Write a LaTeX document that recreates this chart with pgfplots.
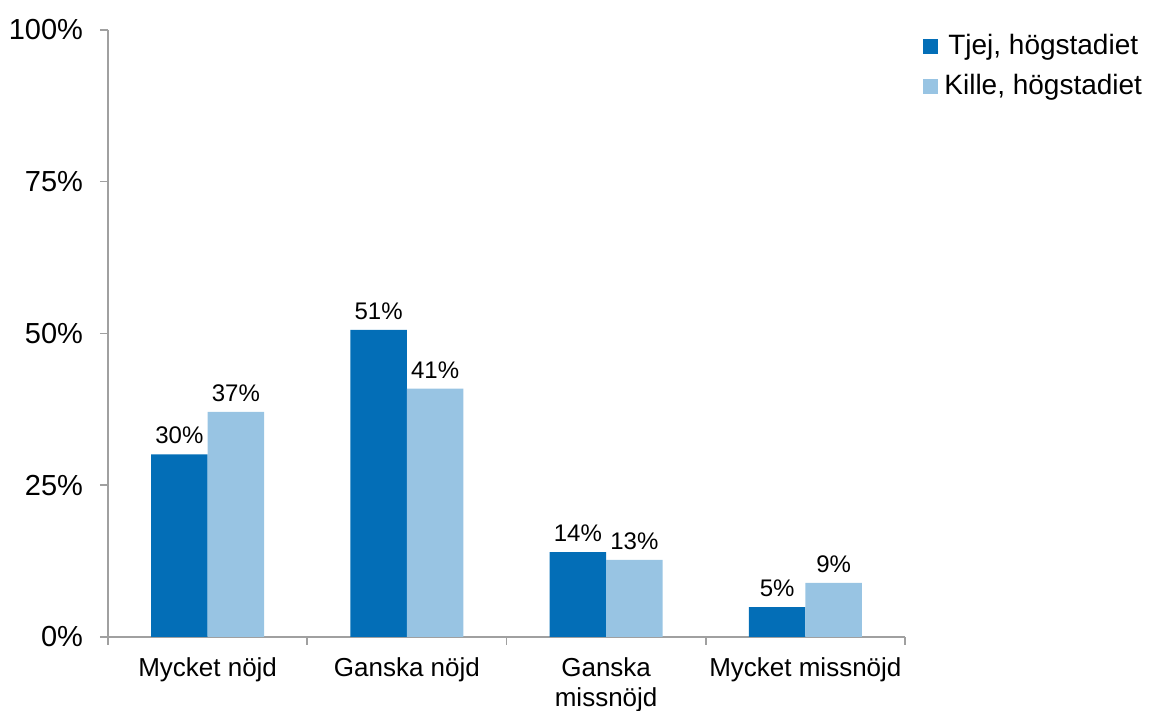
\documentclass[border=0pt]{standalone}
\usepackage{pgfplots}
\pgfplotsset{compat=1.18}
\usepackage{fontspec}
\setmainfont{Liberation Sans}
\definecolor{dark}{RGB}{3,110,183}
\definecolor{light}{RGB}{152,196,227}
\definecolor{axgray}{RGB}{160,160,160}
\begin{document}
\begin{tikzpicture}
\useasboundingbox (-54pt,-37pt) rectangle (522.5pt,318.5pt);
\begin{axis}[
 at={(0,0)}, anchor=south west,
 scale only axis, width=398.5pt, height=303.5pt,
 ybar=0pt, bar width=28.25pt,
 xmin=-0.5, xmax=3.5, ymin=0, ymax=100,
 enlarge x limits=false, enlarge y limits=false,
 axis x line*=bottom, axis y line*=left,
 axis line style={axgray, line width=0.75pt, -},
 every tick/.style={axgray, line width=0.75pt},
 tick align=outside,
 major tick length=4pt, minor tick length=4pt,
 xtick={0,1,2,3},
 xticklabels={Mycket nöjd, Ganska nöjd, Ganska\\missnöjd, Mycket missnöjd},
 xticklabel style={align=center, font=\fontsize{13}{14.8}\selectfont, text=black, yshift=-3pt},
 major x tick style={draw=none},
 minor xtick={-0.5,0.5,1.5,2.5,3.5},
 ytick={0,25,50,75,100},
 yticklabel={\pgfmathprintnumber{\tick}\%},
 yticklabel style={font=\fontsize{14.5}{17}\selectfont, text=black, xshift=-5pt},
 /pgf/number format/assume math mode=true,
 nodes near coords={\pgfmathprintnumber[fixed,precision=0]{\pgfplotspointmeta}\%},
 nodes near coords style={font=\fontsize{12}{14}\selectfont, text=black, yshift=1.5pt},
 legend style={at={(rel axis cs:1,1)}, anchor=north west, draw=none, fill=none,
   font=\fontsize{14}{17}\selectfont, row sep=4.5pt, xshift=6pt, yshift=2pt,
   nodes={inner xsep=3pt}},
 legend image code/.code={\draw[#1,draw=none] (0pt,-3.75pt) rectangle (7.5pt,3.75pt);},
]
\addplot[fill=dark, draw=none] coordinates {(0,30.1) (1,50.6) (2,14.0) (3,4.9)};
\addlegendentry{Tjej, högstadiet}
\addplot[fill=light, draw=none] coordinates {(0,37.1) (1,40.9) (2,12.7) (3,8.9)};
\addlegendentry{Kille, högstadiet}
\end{axis}
\end{tikzpicture}
\end{document}
